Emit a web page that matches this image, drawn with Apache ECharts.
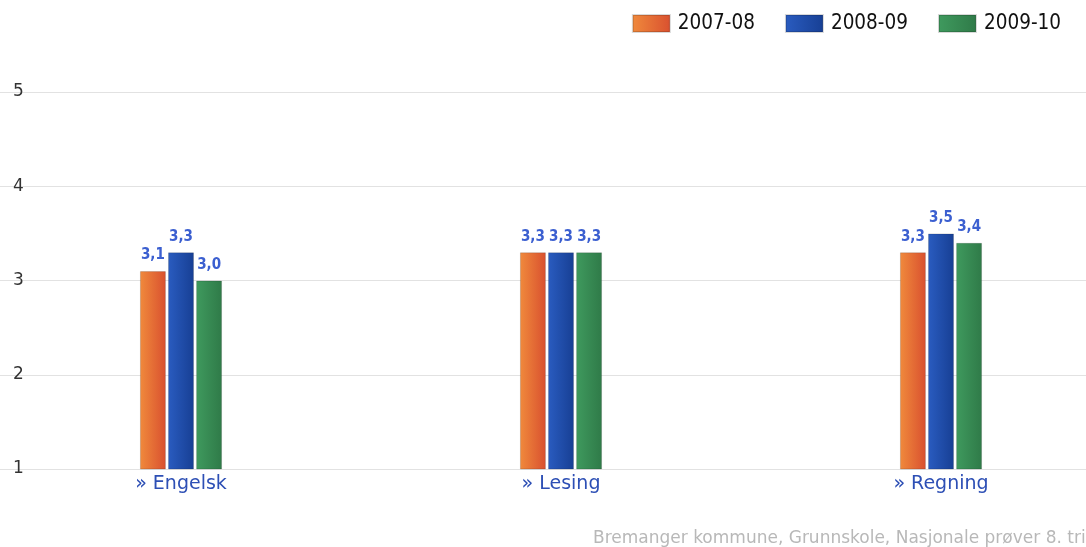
<!DOCTYPE html>
<html><head><meta charset="utf-8">
<script src="https://cdn.jsdelivr.net/npm/echarts@6/dist/echarts.min.js"></script>
<style>html,body{margin:0;padding:0;background:#fff}#c{width:1086px;height:547px}</style>
</head><body><div id="c"></div>
<script>
const categories = ['Engelsk', 'Lesing', 'Regning'];
const seriesNames = ['2007-08', '2008-09', '2009-10'];
const v2007 = [3.1, 3.3, 3.3];
const v2008 = [3.3, 3.3, 3.5];
const v2009 = [3.0, 3.3, 3.4];
const yTicks = [1, 2, 3, 4, 5];

const chart = echarts.init(document.getElementById('c'));
const colors = [
  {type:'linear',x:0,y:0,x2:1,y2:0,colorStops:[{offset:0,color:'#f08a3c'},{offset:1,color:'#d9502f'}]},
  {type:'linear',x:0,y:0,x2:1,y2:0,colorStops:[{offset:0,color:'#2a5cc0'},{offset:1,color:'#173f94'}]},
  {type:'linear',x:0,y:0,x2:1,y2:0,colorStops:[{offset:0,color:'#3f9a5e'},{offset:1,color:'#2f7a48'}]}
];
const legendColors = ['#d9603f', '#1f4fa8', '#3e8c5a'];
const vals = [v2007, v2008, v2009];
chart.setOption({
  animation: false,
  title: {
    text: 'Bremanger kommune, Grunnskole, Nasjonale prøver 8. trinn',
    left: 588, top: 525,
    textStyle: {color: '#b8b8b8', fontSize: 17, fontWeight: 'normal', fontFamily: 'DejaVu Sans'}
  },
  legend: {
    top: 8, right: 20, itemWidth: 37, itemHeight: 17, itemGap: 30,
    icon: 'rect',
    data: seriesNames,
    textStyle: {fontSize: 20.5, color: '#111', fontFamily: 'DejaVu Sans Condensed', padding: [0, 0, 0, 3]}
  },
  grid: {left: -9, right: -45, top: 92, bottom: 78, outerBoundsMode: 'none', containLabel: false},
  xAxis: {
    type: 'category', data: categories,
    axisLine: {show: false}, axisTick: {show: false},
    axisLabel: {
      formatter: v => '» ' + v, color: '#2d4fb5', fontSize: 19,
      fontFamily: 'DejaVu Sans', margin: 6
    }
  },
  yAxis: {
    type: 'value', min: 1, max: 5, interval: 1,
    axisLabel: {inside: true, margin: 22, color: '#333', fontSize: 17, fontFamily: 'DejaVu Sans', verticalAlign: 'middle'},
    splitLine: {lineStyle: {color: '#e2e2e2', width: 1}},
    axisLine: {show: false}, axisTick: {show: false}
  },
  series: seriesNames.map((n, i) => ({
    name: n, type: 'bar', data: vals[i], barWidth: 26, barGap: '8%',
    color: legendColors[i],
    itemStyle: {color: colors[i], borderColor: 'rgba(0,0,0,0.15)', borderWidth: 1},
    label: {
      show: true, position: 'top', distance: 8, color: '#3b5fd0', fontSize: 15,
      fontWeight: 'bold', fontFamily: 'DejaVu Sans Condensed',
      formatter: p => p.value.toFixed(1).replace('.', ',')
    }
  }))
});
</script></body></html>
